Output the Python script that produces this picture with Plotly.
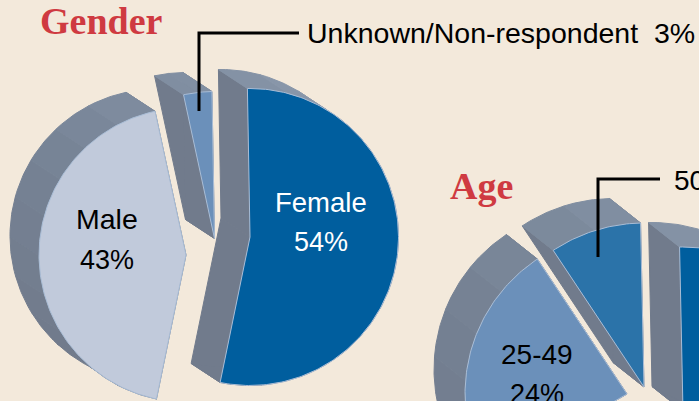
import math
import plotly.graph_objects as go

# ---- data (labels show these rounded) ----
gender_categories = ["Female", "Male", "Unknown/Non-respondent"]
gender_values = [53.5, 43.4, 3.1]
# The two unnamed age groups are cut off below the picture; their shares are estimates.
age_categories = ["", "", "25-49", "50+"]
age_values = [33, 34, 24, 9]

# ---- styling / layout ----
W, H = 699, 401
BG = "#F3E9DB"
SIDE = "#717B8C"
EDGE = "#A9BDD6"
GENDER_COLORS = ["#005E9E", "#C1CADB", "#6B90BA"]
AGE_COLORS = ["#005E9E", "#005E9E", "#6B90BA", "#2B73A9"]
GENDER_APEX = [(250, 237), (186, 255), (214.5, 238.5)]
AGE_APEX = [(683, 411), (650, 432), (627, 394), (644, 387)]
GENDER_R = [148.5, 147, 147]
AGE_R = [164, 163, 162, 164]
GENDER_DEPTH, AGE_DEPTH = (-29, -19), (-31, -24.5)
GENDER_START, AGE_START = -1.0, -1.2


def pt(c, r, deg):
    a = math.radians(deg)
    return c[0] + r * math.sin(a), c[1] - r * math.cos(a)


def arc(c, r, a0, a1):
    n = max(2, int(abs(a1 - a0)) + 1)
    return [pt(c, r, a0 + (a1 - a0) * i / n) for i in range(n + 1)]


def shift(points, d):
    return [(x + d[0], y + d[1]) for x, y in points]


def band_color(deg):
    deg = deg % 360
    stops = [(0, (0x71, 0x7B, 0x8C)), (230, (0x71, 0x7B, 0x8C)), (300, (0x76, 0x82, 0x94)),
             (350, (0x80, 0x8E, 0xA1)), (420, (0x92, 0x9F, 0xB2))]
    if deg < 180:
        deg += 360
    for (a0, c0), (a1, c1) in zip(stops, stops[1:]):
        if a0 <= deg <= a1:
            t = (deg - a0) / (a1 - a0)
            return "rgb(%d,%d,%d)" % tuple(c0[i] + (c1[i] - c0[i]) * t for i in range(3))
    return "rgb(146,159,178)"


fig = go.Figure()


def poly(points, fill, line=None, width=1):
    xs = [p[0] for p in points] + [points[0][0]]
    ys = [p[1] for p in points] + [points[0][1]]
    fig.add_trace(go.Scatter(x=xs, y=ys, mode="lines", fill="toself", fillcolor=fill,
                             line=dict(color=line or fill, width=width),
                             hoverinfo="skip", showlegend=False))


def draw_pie(values, colors, apexes, radii, depth, start):
    ang = start
    spans = []
    for v in values:
        spans.append((ang, ang + v * 3.6))
        ang += v * 3.6
    for (a0, a1), c, r in zip(spans, apexes, radii):
        for a in (a0, a1):
            e = pt(c, r, a)
            poly([c, e, shift([e], depth)[0], shift([c], depth)[0]], SIDE)
        steps = max(2, int((a1 - a0) / 15))
        for i in range(steps):
            s0 = a0 + (a1 - a0) * i / steps
            s1 = a0 + (a1 - a0) * (i + 1) / steps
            front = arc(c, r, s0, s1)
            poly(front + shift(front, depth)[::-1], band_color((s0 + s1) / 2), width=1)
    for (a0, a1), c, r, col in zip(spans, apexes, radii, colors):
        poly([c] + arc(c, r, a0, a1), col, EDGE, 1)


draw_pie(gender_values, GENDER_COLORS, GENDER_APEX, GENDER_R, GENDER_DEPTH, GENDER_START)
draw_pie(age_values, AGE_COLORS, AGE_APEX, AGE_R, AGE_DEPTH, AGE_START)

# leader lines
for xs, ys in (([299, 199, 199], [33, 33, 111]), ([660, 598, 598], [179, 179, 257])):
    fig.add_trace(go.Scatter(x=xs, y=ys, mode="lines", line=dict(color="#000000", width=3),
                             hoverinfo="skip", showlegend=False))


def label(x, y, text, color="#000000", size=28, family="Liberation Sans", anchor="center"):
    fig.add_annotation(x=x, y=y, text=text, showarrow=False, xanchor=anchor, yanchor="middle",
                       font=dict(color=color, size=size, family=family), xref="x", yref="y")


label(101, 21, "<b>Gender</b>", "#CF3A41", 38, "Liberation Serif")
label(481.5, 186, "<b>Age</b>", "#CF3A41", 38, "Liberation Serif")
label(320.5, 202, gender_categories[0], "#FFFFFF", 27.5)
label(321, 242, f"{gender_values[0]:.0f}%", "#FFFFFF", 27)
label(107, 219, gender_categories[1], size=28.5)
label(106.5, 260, f"{gender_values[1]:.0f}%", size=27)
label(305, 33, f"{gender_categories[2]}  {gender_values[2]:.0f}%", size=28.5, anchor="left")
label(537, 354, age_categories[2])
label(537, 394, f"{age_values[2]}%", size=27)
label(672, 180, f"{age_categories[3]}  {age_values[3]}%", anchor="left")

fig.update_layout(
    width=W, height=H, margin=dict(l=0, r=0, t=0, b=0),
    paper_bgcolor=BG, plot_bgcolor=BG, showlegend=False,
    xaxis=dict(range=[0, W], visible=False, fixedrange=True),
    yaxis=dict(range=[H, 0], visible=False, fixedrange=True),
)
fig.write_html("out.html", config={"displayModeBar": False},
               post_script="document.body.style.margin='0';document.body.style.overflow='hidden';document.body.style.background='#F3E9DB';")
